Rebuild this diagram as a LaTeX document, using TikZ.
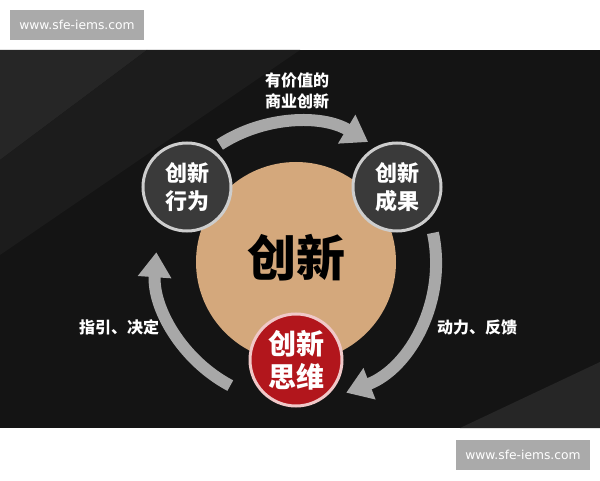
\documentclass[tikz,border=0pt]{standalone}
\usepackage{fontspec}
\newfontfamily\cjk{Noto Sans CJK SC}
\newfontfamily\cjkblack{Noto Sans CJK SC Black}
\newfontfamily\wm{DejaVu Sans}
\usetikzlibrary{arrows.meta}
\definecolor{panel}{RGB}{20,20,20}
\definecolor{streak}{RGB}{38,38,38}
\definecolor{streakb}{RGB}{28,28,28}
\definecolor{tan}{RGB}{212,168,124}
\definecolor{darkc}{RGB}{58,58,58}
\definecolor{ringc}{RGB}{205,205,205}
\definecolor{redc}{RGB}{178,22,28}
\definecolor{redring}{RGB}{240,200,200}
\definecolor{arrowc}{RGB}{168,168,168}
\definecolor{wmbox}{RGB}{170,170,170}
\tikzset{
  wmark/.style={fill=wmbox, text=white, font=\wm\fontsize{12.3}{14}\selectfont, inner sep=0pt, minimum height=30pt, minimum width=134pt},
  smallc/.style={circle, fill=darkc, draw=ringc, line width=3pt, minimum size=88pt, inner sep=0pt, text=white, align=center, font=\cjk\bfseries\fontsize{22}{28}\selectfont},
  redcirc/.style={circle, fill=redc, draw=redring, line width=3pt, minimum size=92pt, inner sep=0pt, text=white, align=center, font=\cjk\bfseries\fontsize{28}{33}\selectfont},
  bigc/.style={circle, fill=tan, minimum size=200pt, inner sep=0pt},
  cyc/.style={draw=arrowc, line width=12pt, -{Triangle[width=32pt,length=25pt]}},
  lbl/.style={text=white, align=center, font=\cjk\bfseries\fontsize{16}{21}\selectfont},
}
\begin{document}
\begin{tikzpicture}[x=1pt,y=1pt]
\useasboundingbox (0,0) rectangle (600,480);
\fill[white] (0,0) rectangle (600,480);
% dark panel
\fill[panel] (0,52) rectangle (600,430);
\fill[streak] (0,430) -- (147,430) -- (0,320) -- cycle;
\fill[streakb] (147,430) -- (300,430) -- (0,225) -- (0,320) -- cycle;
\fill[streak] (600,118) -- (600,52) -- (460,52) -- cycle;
% watermarks
\node[wmark] (wm1) at (77,455) {www.sfe-iems.com};
\node[wmark] (wm2) at (523,25) {www.sfe-iems.com};
% centre
\coordinate (C) at (296,218);
\node[bigc] (core) at (296,218) {};
\node[text=black, font=\cjkblack\fontsize{49}{52}\selectfont] (coretxt) at (296,222) {创新};
% cycle arrows
\draw[cyc] (C) ++(123:140) coordinate (s1) arc[start angle=123, end angle=59, radius=140];
\draw[cyc] (C) ++(12:140) coordinate (s2) arc[start angle=12, end angle=-69, radius=140];
\draw[cyc] (C) ++(242:140) coordinate (s3) arc[start angle=242, end angle=176, radius=140];
% small circles
\node[smallc] (act) at (187,293) {创新\\行为};
\node[smallc] (res) at (397,293) {创新\\成果};
\node[redcirc] (think) at (296,120) {创新\\思维};
% labels
\node[lbl] (ltop) at (297,389) {有价值的\\商业创新};
\node[lbl] (lleft) at (119,153) {指引、决定};
\node[lbl] (lright) at (477,153) {动力、反馈};
\end{tikzpicture}
\end{document}
